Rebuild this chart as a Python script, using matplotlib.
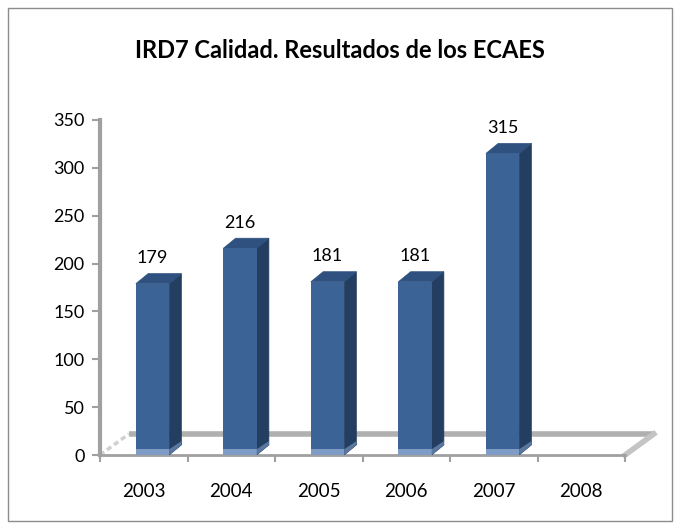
import numpy as np
import matplotlib.pyplot as plt
from matplotlib.patches import Polygon, Rectangle

# data
years = ['2003', '2004', '2005', '2006', '2007', '2008']
values = [179, 216, 181, 181, 315, 0]
yticks = [0, 50, 100, 150, 200, 250, 300, 350]
title = 'IRD7 Calidad. Resultados de los ECAES'

plt.rcParams['font.family'] = ['Lato', 'DejaVu Sans']

fig = plt.figure(figsize=(6.8, 5.29), dpi=100)
W, H = 680.0, 529.0
ax = fig.add_axes([100 / W, (H - 455) / H, 525 / W, 335 / H])
ax.set_xlim(-0.5, 5.5)
ax.set_ylim(0, 350)

# chart border
fig.patches.append(Rectangle((8 / W, 8 / H), 664 / W, 513 / H, transform=fig.transFigure,
                             fill=False, edgecolor='#8c8c8c', linewidth=1))

# 3d depth in data units
dx = 0.14   # ~12 px
dy = 10.5   # ~10 px
fx = 0.33   # floor depth (x)
fy = 22.0   # floor depth (y)

gray = '#a0a0a0'
# floor back edge and sides
ax.plot([-0.5 + fx, 5.5 + fx], [fy, fy], color='#b0b0b0', lw=4, clip_on=False, solid_capstyle='butt', zorder=1)
ax.plot([5.5, 5.5 + fx], [0, fy], color='#c4c4c4', lw=4, clip_on=False, zorder=1)
ax.plot([-0.5, -0.5 + fx], [0, fy], color='#d0d0d0', lw=2.5, ls=(0, (1.5, 1)), clip_on=False, zorder=1)

front = '#3b6396'
side = '#233e60'
top = '#2e5180'
bottom = '#7e9cc6'
w = 0.38
for i, v in enumerate(values):
    if v <= 0:
        continue
    x0 = i + 0.1 - w / 2
    x1 = x0 + w
    ax.add_patch(Polygon([[x1, 0], [x1 + dx, dy], [x1 + dx, v + dy], [x1, v]],
                         closed=True, facecolor=side, edgecolor=side, lw=0.5, zorder=3))
    ax.add_patch(Polygon([[x0, v], [x1, v], [x1 + dx, v + dy], [x0 + dx, v + dy]],
                         closed=True, facecolor=top, edgecolor=top, lw=0.5, zorder=3))
    ax.bar(i + 0.1, v, width=w, color=front, edgecolor='none', zorder=4)
    ax.add_patch(Rectangle((x0, 0), w, 6, facecolor=bottom, edgecolor='none', zorder=5))
    ax.add_patch(Polygon([[x1, 0], [x1 + dx, dy], [x1 + dx, dy + 4], [x1, 6]],
                         closed=True, facecolor='#5a77a0', edgecolor='none', zorder=5))
    ax.text(i + 0.1, v + dy + 8, str(v), ha='center', va='bottom', fontsize=13)

ax.set_xticks(np.arange(len(years)))
ax.set_xticklabels(years, fontsize=13.5)
ax.set_xticks(np.arange(-0.5, 6, 1), minor=True)
ax.tick_params(axis='x', which='major', length=0, pad=20)
ax.tick_params(axis='x', which='minor', length=5, color=gray, width=1.5, direction='out')
ax.set_yticks(yticks)
ax.set_yticklabels([str(t) for t in yticks], fontsize=13)
ax.tick_params(axis='y', length=6, color=gray, width=1.5, pad=5)

for s in ['top', 'right']:
    ax.spines[s].set_visible(False)
ax.spines['left'].set_color(gray)
ax.spines['left'].set_linewidth(3)
ax.spines['bottom'].set_color(gray)
ax.spines['bottom'].set_linewidth(2)
ax.patch.set_visible(False)

fig.text(340 / W, 1 - 50 / H, title, ha='center', va='center', fontsize=17, fontweight='bold')

fig.savefig('out.png', dpi=100)
